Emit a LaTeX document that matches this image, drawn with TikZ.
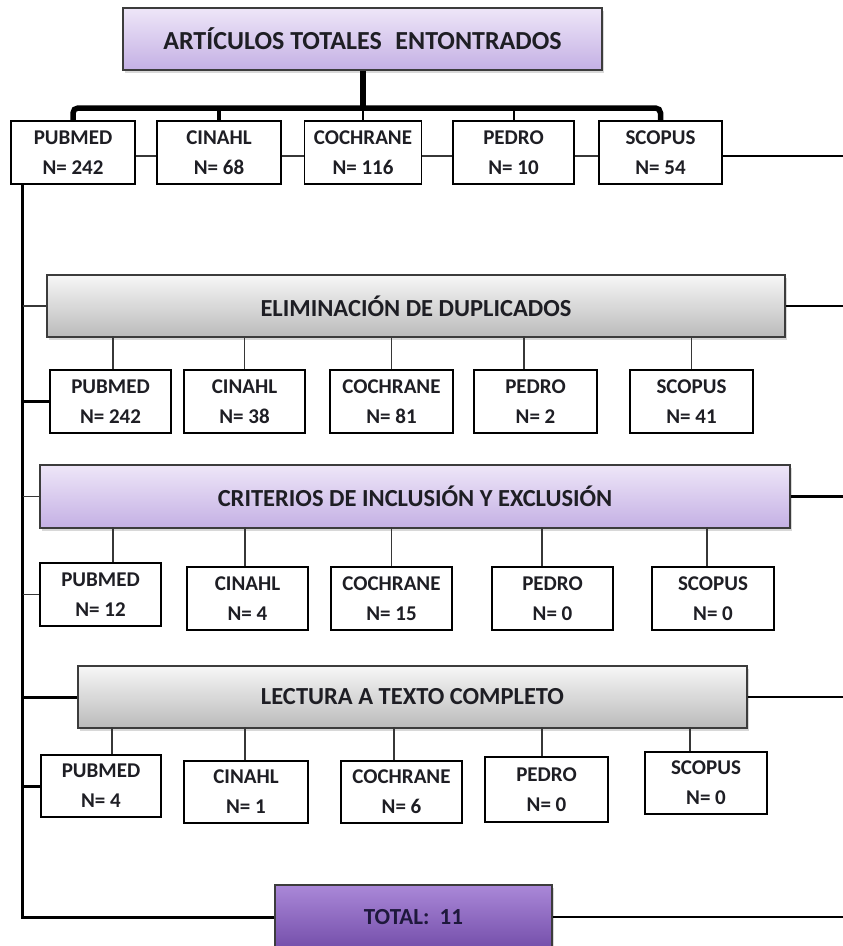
\documentclass[tikz,border=0pt]{standalone}
\usepackage{fontspec}
\setmainfont{Carlito}
\usetikzlibrary{shadows}
\definecolor{lavtop}{RGB}{238,230,248}
\definecolor{lavbot}{RGB}{196,176,228}
\definecolor{graytop}{RGB}{247,247,247}
\definecolor{graybot}{RGB}{186,186,186}
\definecolor{purtop}{RGB}{170,136,216}
\definecolor{purbot}{RGB}{116,78,170}
\definecolor{inkc}{RGB}{30,30,36}
\definecolor{inkt}{RGB}{30,24,60}
\definecolor{edgec}{RGB}{60,60,60}
\definecolor{thinc}{RGB}{55,55,55}
\newcommand\dbxfont{\fontsize{21}{30}\selectfont\bfseries}
\newcommand\hdrfont{\fontsize{24.5}{28}\selectfont\bfseries}
\begin{document}
\begin{tikzpicture}[x=1pt,y=-1pt,
  dbbox/.style={draw=black, line width=1.4pt, fill=white, minimum height=63pt,
    inner sep=0pt, align=center, font=\dbxfont, text=inkc},
  hdr/.style={draw=edgec, line width=1.2pt, minimum height=62pt, inner sep=0pt,
    font=\hdrfont, text=inkc,
    drop shadow={opacity=0.3, shadow xshift=2pt, shadow yshift=-3pt}},
  lav/.style={hdr, top color=lavtop, bottom color=lavbot},
  grayh/.style={hdr, top color=graytop, bottom color=graybot},
  thickln/.style={line width=3pt, draw=black},
  thinln/.style={line width=1.2pt, draw=thinc},
  bar/.style={line width=5.5pt, draw=black, rounded corners=5pt},
]
\fill[white] (0,0) rectangle (843,946);
\useasboundingbox (0,0) rectangle (843,946);

\coordinate (barY) at (0,108);
\coordinate (L0) at (22.5,184);
\coordinate (L5) at (22.5,917);
\coordinate (R1) at (843,156);

% title
\node[lav, minimum width=479pt, font=\fontsize{26}{30}\selectfont\bfseries] (T) at (362.5,39) {ARTÍCULOS TOTALES\hspace{0.3em} ENTONTRADOS};

% row 1
\node[dbbox, minimum width=124pt] (P1) at (73,152.5) {PUBMED\\N= 242};
\node[dbbox, minimum width=124pt] (C1) at (219,152.5) {CINAHL\\N= 68};
\node[dbbox, minimum width=117pt] (Co1) at (363,152.5) {COCHRANE\\N= 116};
\node[dbbox, minimum width=121pt] (Pe1) at (513.5,152.5) {PEDRO\\N= 10};
\node[dbbox, minimum width=123pt] (S1) at (660.5,152.5) {SCOPUS\\N= 54};

% row 2
\node[grayh, minimum width=738pt] (E) at (416,306) {ELIMINACIÓN DE DUPLICADOS};
\node[dbbox, minimum width=121pt] (P2) at (110.5,401.5) {PUBMED\\N= 242};
\node[dbbox, minimum width=121pt] (C2) at (244.5,401.5) {CINAHL\\N= 38};
\node[dbbox, minimum width=123pt] (Co2) at (391.5,401.5) {COCHRANE\\N= 81};
\node[dbbox, minimum width=123pt] (Pe2) at (535.5,401.5) {PEDRO\\N= 2};
\node[dbbox, minimum width=123pt] (S2) at (691.5,401.5) {SCOPUS\\N= 41};

% row 3
\node[lav, minimum width=750pt, minimum height=63pt] (Cr) at (415,496.5) {CRITERIOS DE INCLUSIÓN Y EXCLUSIÓN};
\node[dbbox, minimum width=121pt] (P3) at (100.5,594.5) {PUBMED\\N= 12};
\node[dbbox, minimum width=121pt] (C3) at (247.5,598.5) {CINAHL\\N= 4};
\node[dbbox, minimum width=121pt] (Co3) at (391.5,598.5) {COCHRANE\\N= 15};
\node[dbbox, minimum width=121pt] (Pe3) at (552.5,598.5) {PEDRO\\N= 0};
\node[dbbox, minimum width=122pt] (S3) at (713,598.5) {SCOPUS\\N= 0};

% row 4
\node[grayh, minimum width=669pt] (Le) at (412.5,697) {LECTURA A TEXTO COMPLETO};
\node[dbbox, minimum width=120pt, minimum height=62pt] (P4) at (101,786) {PUBMED\\N= 4};
\node[dbbox, minimum width=124pt, minimum height=62pt] (C4) at (246,792) {CINAHL\\N= 1};
\node[dbbox, minimum width=121pt, minimum height=62pt] (Co4) at (401.5,792) {COCHRANE\\N= 6};
\node[dbbox, minimum width=123pt, minimum height=65pt] (Pe4) at (546.5,789.5) {PEDRO\\N= 0};
\node[dbbox, minimum width=122pt, minimum height=62pt] (S4) at (706,783) {SCOPUS\\N= 0};

% total
\node[hdr, top color=purtop, bottom color=purbot, minimum width=277pt, minimum height=64pt,
      font=\fontsize{23}{28}\selectfont\bfseries, text=inkt] (Tot) at (413.5,917) {TOTAL:~~11};

% top tree
\draw[line width=6pt] (T.south) -- (T.south |- barY);
\draw[bar] (P1.north) |- (S1.north |- barY) -- (S1.north);
\draw[line width=4pt] (C1.north) -- (C1.north |- barY);
\draw[line width=2pt] (Co1.north) -- (Co1.north |- barY);
\draw[line width=2pt] (Pe1.north) -- (Pe1.north |- barY);

% row 1 side links
\draw[thinln] ([yshift=-3.5pt]P1.east) -- ([yshift=-3.5pt]C1.west);
\draw[thinln] ([yshift=-3.5pt]C1.east) -- ([yshift=-3.5pt]Co1.west);
\draw[thinln] ([yshift=-3.5pt]Co1.east) -- ([yshift=-3.5pt]Pe1.west);
\draw[thinln] ([yshift=-3.5pt]Pe1.east) -- ([yshift=-3.5pt]S1.west);
\draw[thickln, line width=2.6pt] ([yshift=-3.5pt]S1.east) -- (R1);

% left spine
\draw[thickln] (L0) -- (L5) -- (Tot.west);

% row 2 links
\draw[thinln] (E.west -| L0) -- (E.west);
\draw[thickln, line width=2.6pt] (E.east) -- (E.east -| R1);
\draw[thickln] (P2.west -| L0) -- (P2.west);
\draw[thinln] ([xshift=2.5pt]P2.north) -- ++(0,-33);
\draw[thinln] (C2.north) -- (C2.north |- E.south);
\draw[thinln] (Co2.north) -- (Co2.north |- E.south);
\draw[thinln] ([xshift=-11.5pt]Pe2.north) -- ++(0,-33);
\draw[thinln] (S2.north) -- (S2.north |- E.south);

% row 3 links
\draw[thinln] (Cr.west -| L0) -- (Cr.west);
\draw[thickln, line width=2.6pt] (Cr.east) -- (Cr.east -| R1);
\draw[thinln] (P3.west -| L0) -- (P3.west);
\draw[thinln] ([xshift=12.5pt]P3.north) -- ++(0,-35);
\draw[thinln] ([xshift=-2.5pt]C3.north) -- ++(0,-39);
\draw[thinln] (Co3.north) -- ++(0,-39);
\draw[thinln] ([xshift=-10.5pt]Pe3.north) -- ++(0,-39);
\draw[thinln] ([xshift=-6pt]S3.north) -- ++(0,-39);

% row 4 links
\draw[thickln] (Le.west -| L0) -- (Le.west);
\draw[thickln, line width=2.6pt] (Le.east) -- (Le.east -| R1);
\draw[thickln] (P4.west -| L0) -- (P4.west);
\draw[thinln] ([xshift=11pt]P4.north) -- ++(0,-27);
\draw[thinln] ([xshift=-1pt]C4.north) -- ++(0,-33);
\draw[thinln] ([xshift=-7.5pt]Co4.north) -- ++(0,-33);
\draw[thinln] ([xshift=-4.5pt]Pe4.north) -- ++(0,-29);
\draw[thinln] ([xshift=-16pt]S4.north) -- ++(0,-24);

% total right
\draw[thickln, line width=2.6pt] (Tot.east) -- (Tot.east -| R1);
\end{tikzpicture}
\end{document}
